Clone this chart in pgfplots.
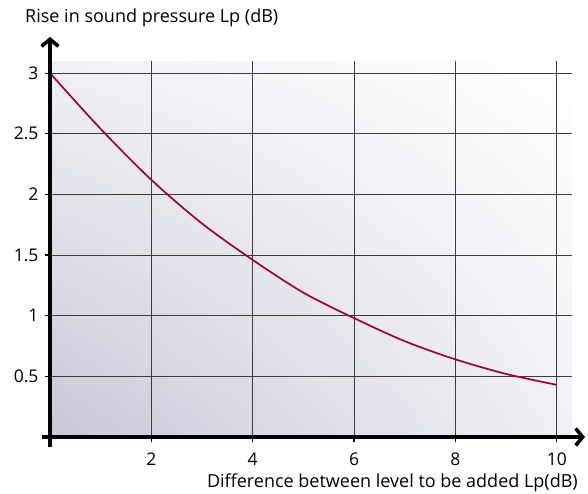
\documentclass[border=0pt]{standalone}
\usepackage{fontspec}
\setmainfont{Open Sans}
\usepackage{pgfplots}
\pgfplotsset{compat=1.18}
\usetikzlibrary{arrows.meta,shadings}
\definecolor{curve}{RGB}{165,0,52}
\definecolor{bgll}{RGB}{198,201,215}
\definecolor{bgmid}{RGB}{240,241,245}
\definecolor{gridc}{RGB}{60,60,60}
\begin{document}
\begin{tikzpicture}
\begin{axis}[
    scale only axis,
    width=522pt, height=376pt,
    xmin=0, xmax=10.3,
    ymin=0, ymax=3.1,
    axis line style={draw=none},
    xtick={2,4,6,8,10},
    ytick={0.5,1,1.5,2,2.5,3},
    yticklabels={0.5,1,1.5,2,2.5,3},
    grid=major,
    grid style={gridc, line width=0.9pt},
    tick align=outside,
    xtick pos=lower, ytick pos=left,
    major tick length=5pt,
    tick style={black, line width=1.2pt},
    /pgf/number format/assume math mode=true,
    ticklabel style={font=\fontsize{17.5}{20}\selectfont},
    xticklabel style={yshift=-7pt},
    yticklabel style={xshift=-3pt},
    axis background/.style={shade,
        lower left=bgll, upper right=white,
        upper left=bgmid, lower right=bgmid},
  ]
  \addplot[curve, line width=1.7pt, smooth] coordinates {
    (0,3.00) (1,2.54) (2,2.12) (3,1.76) (4,1.46) (5,1.19)
    (6,0.98) (7,0.79) (8,0.64) (9,0.52) (10,0.43)
  };
\end{axis}
\draw[line width=3.6pt, -{Straight Barb[length=7pt,width=17pt]}] (-8pt,0) -- (535pt,0);
\draw[line width=3.6pt, -{Straight Barb[length=7pt,width=17pt]}] (0,-10pt) -- (0,400pt);
\node[anchor=west, inner sep=0pt, font=\fontsize{18}{21}\selectfont] at (25pt-50pt,419pt) {Rise in sound pressure Lp (dB)};
\node[anchor=east, inner sep=0pt, font=\fontsize{18}{21}\selectfont] at (528pt,-46pt) {Difference between level to be added Lp(dB)};
\useasboundingbox (-50pt,-56pt) rectangle (538pt,437pt);
\end{tikzpicture}
\end{document}
